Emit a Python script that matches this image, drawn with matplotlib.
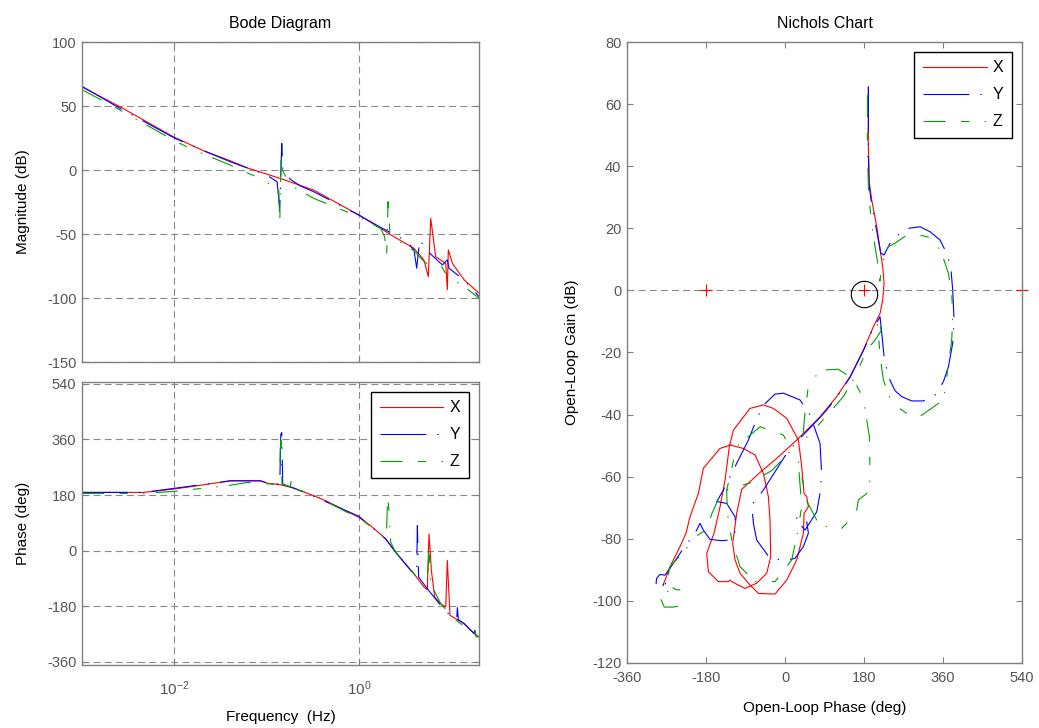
import numpy as np
import matplotlib
matplotlib.use('Agg')
import matplotlib.pyplot as plt

plt.rcParams['font.family'] = ['Liberation Sans', 'DejaVu Sans']
plt.rcParams['mathtext.default'] = 'regular'
plt.rcParams['axes.unicode_minus'] = False
plt.rcParams['lines.scale_dashes'] = False

# Bode magnitude, one frequency list per channel (Hz, dB)
mag_x_f = [0.001, 0.0026, 0.0098, 0.0208, 0.0406, 0.0614, 0.141, 0.325, 1.0, 1.72, 2.40,
           3.95, 5.07, 5.65, 6.0, 6.79, 8.72, 9.08, 9.31, 10.3, 13.8, 20.0]
mag_x_db = [64.9, 49.3, 25.9, 15.0, 7.2, 1.7, -6.6, -15.7, -35.2, -45.6, -52.1,
            -61.2, -70.3, -83.3, -37.8, -67.7, -72.9, -93.6, -62.4, -72.9, -85.8, -96.2]

mag_y_f = [0.001, 0.0026, 0.0098, 0.0149, 0.0406, 0.101, 0.130, 0.139, 0.146, 0.150, 0.181,
           0.233, 0.325, 1.0, 1.72, 3.34, 3.95, 4.23, 4.55, 5.75, 8.02, 9.08, 9.46, 11.7,
           12.7, 20.0]
mag_y_db = [65.4, 48.0, 25.4, 19.4, 6.4, -4.0, -9.2, -30.5, 20.7, 0.0, -7.3,
            -12.5, -17.0, -35.2, -44.8, -55.9, -62.4, -76.7, -54.6, -64.5, -74.1, -70.2, -76.7, -81.9,
            -83.2, -98.8]

mag_z_f = [0.001, 0.0026, 0.0098, 0.0149, 0.0406, 0.0931, 0.1355, 0.139, 0.1436, 0.148, 0.181,
           0.325, 1.0, 1.72, 1.90, 2.0, 2.07, 2.17, 2.40, 3.95, 5.07, 5.75, 7.69, 9.08, 13.8, 20.0]
mag_z_db = [62.8, 46.7, 23.3, 16.8, 3.8, -7.9, -15.7, -41.1, 10.3, 0.0, -11.8,
            -22.2, -36.5, -45.6, -52.0, -66.3, -24.8, -49.4, -53.3, -63.0, -71.5, -74.1, -74.1, -83.2,
            -91.0, -100.1]

# Bode phase (Hz, deg)
ph_x_f = [0.001, 0.00465, 0.0098, 0.0176, 0.0406, 0.0857, 0.101, 0.141, 0.197, 0.325, 0.453,
          1.0, 1.34, 1.95, 2.50, 3.95, 5.07, 5.51, 5.75, 6.10, 6.62, 7.69, 8.72, 9.08, 9.70,
          13.8, 17.7, 20.0]
ph_x_deg = [188.6, 188.6, 199.3, 210.1, 226.2, 226.2, 218.7, 213.3, 202.6, 177.9, 159.6,
            108.0, 81.1, 38.2, -4.8, -74.7, -117.7, -126.3, 54.3, -63.9, -149.9, -171.4, -182.1,
            -31.7, -209.0, -235.9, -268.1, -278.8]

ph_y_f = [0.001, 0.00465, 0.0098, 0.0406, 0.0857, 0.101, 0.139, 0.1426, 0.146, 0.1497, 0.197,
          0.325, 1.0, 1.95, 2.50, 3.95, 4.23, 4.30, 4.44, 5.51, 7.69, 9.70, 11.48, 11.67, 11.96,
          13.8, 17.7, 18.2, 18.6, 20.0]
ph_y_deg = [188.6, 188.6, 201.5, 226.2, 226.2, 219.0, 215.5, 376.7, 382.0, 215.5, 202.6,
            175.7, 111.2, 38.2, -4.8, -76.8, -63.9, 81.1, -85.4, -123.0, -176.8, -209.0, -219.7,
            -184.3, -223.0, -235.9, -268.1, -246.6, -278.8, -278.8]

ph_z_f = [0.001, 0.00465, 0.0098, 0.0372, 0.0614, 0.0931, 0.139, 0.1405, 0.1436, 0.1466, 0.181,
          0.186, 0.1905, 0.325, 0.746, 1.0, 1.87, 2.0, 2.05, 2.12, 2.21, 2.50, 3.95, 5.07, 5.61,
          5.75, 6.0, 7.69, 10.7, 17.7, 18.0, 18.6, 20.0]
ph_z_deg = [185.4, 185.4, 191.8, 210.1, 220.8, 217.6, 213.3, 322.9, 382.0, 215.5, 206.9,
            231.6, 202.6, 181.1, 124.1, 108.0, 43.5, 75.8, 174.6, 129.5, 27.4, -4.8, -74.7, -117.7,
            -63.9, 16.7, -106.9, -171.4, -219.7, -268.1, -241.2, -278.8, -278.8]

# Nichols traces (open-loop phase in deg, gain in dB)
nic_x_ph = [189.8, 189.8, 192.1, 197.5, 208.9, 222.5, 225.6, 222.5, 216.5, 201.3, 178.5,
            148.1, 117.7, 79.8, 26.6, -19.0, -60.0, -98.8, -110.1, -119.3, -113.9, -102.5,
            -83.6, -60.8, -22.8, 3.8, 26.6, 41.8, 43.3, 53.1, 49.4, 43.3, 38.0, 30.4, 3.8,
            -26.6, -49.4, -79.8, -117.7, -126.9, -136.7, -148.1, -161.8, -178.5, -174.7,
            -151.9, -129.1, -125.3, -121.5, -91.2, -64.6, -41.8, -32.7, -34.2, -38.0, -49.4,
            -68.4, -95.0, -125.3, -148.1, -186.1, -197.5, -216.5, -225.6, -239.3, -262.1,
            -273.4, -277.2]
nic_x_db = [65.6, 46.3, 34.5, 29.1, 20.5, 7.6, 2.3, -3.1, -7.4, -11.7, -19.2,
            -27.8, -34.2, -40.7, -48.2, -54.1, -59.0, -64.1, -71.8, -81.5, -86.8, -91.1,
            -94.3, -97.6, -97.8, -93.3, -86.8, -78.2, -71.8, -69.7, -66.4, -65.4, -56.8, -48.2, -41.2,
            -38.0, -36.9, -38.0, -45.0, -50.3, -61.1, -69.7, -78.2, -84.7, -90.6,
            -93.8, -93.8, -93.3, -93.8, -96.0, -94.3, -91.1, -85.8, -74.0, -66.4, -58.9,
            -53.0, -50.9, -49.8, -50.9, -57.3, -65.4, -72.9, -78.2, -82.5, -89.0,
            -93.3, -94.6]

nic_y_ph = [189.8, 189.8, 191.0, 196.0, 207.0, 218.0, 225.6, 239.3, 262.0, 281.0, 307.6,
            330.4, 353.2, 368.4, 377.5, 382.0, 385.1, 382.0, 372.2, 360.8, 341.8, 315.2,
            288.6, 265.8, 250.6, 235.4, 225.6, 220.3, 216.5, 201.3, 178.5, 148.1, 117.7,
            94.9, 79.8, 30.4, 3.8, -49.4, -75.9, -72.1, -64.6, -34.2, 0.0, 22.8, 41.8, 53.2,
            49.4, 38.0, 22.8, 45.6, 72.2, 79.7, 83.5, 79.7, 57.0, 34.2, -3.8, -22.8, -50.9,
            -68.4, -83.5, -106.3, -125.3, -140.5, -155.7, -132.9, -113.9, -111.6, -125.3,
            -144.3, -170.9, -186.1, -193.7, -201.3, -212.7, -224.0, -254.5, -273.4, -285.0,
            -292.4, -293.9, -284.8, -273.4, -269.6, -278.7]
nic_y_db = [65.6, 46.3, 34.5, 29.1, 20.5, 12.0, 11.4, 15.2, 18.4, 20.0, 20.5,
            18.9, 16.2, 11.9, 7.6, 0.1, -9.5, -17.0, -24.6, -29.4, -33.7, -35.6,
            -35.6, -34.2, -32.3, -27.8, -21.3, -13.8, -8.5, -12.0, -19.4, -28.0, -34.4,
            -38.5, -40.9, -48.2, -52.5, -64.3, -69.1, -75.0, -80.4, -86.3, -87.0, -86.3, -82.5, -78.2,
            -74.5, -72.9, -73.4, -77.2, -71.3, -65.4, -59.4, -49.3, -40.1, -35.3, -33.1, -33.4, -37.2,
            -42.8, -48.2, -54.6, -60.0, -64.3, -68.0, -68.6, -72.9, -77.2, -80.4,
            -80.6, -80.2, -77.2, -75.0, -77.2, -79.8, -81.5, -87.9, -91.7, -91.5,
            -92.7, -94.3, -95.6, -94.9, -92.7, -95.2]

nic_z_ph = [188.0, 187.5, 188.5, 191.0, 197.0, 204.0, 212.0, 216.0, 222.0, 235.4, 250.6,
            277.2, 307.6, 338.0, 357.0, 372.2, 379.7, 382.0, 379.7, 372.2, 364.6, 349.4,
            330.4, 303.8, 277.2, 254.4, 239.2, 224.1, 216.5, 212.7, 208.9, 214.0, 219.0,
            205.0, 186.1, 159.5, 132.9, 106.3, 79.7, 55.0, 40.0, 45.0, 52.0, 65.0, 79.7,
            91.1, 121.5, 155.7, 178.5, 186.1, 192.2, 193.7, 186.1, 167.1, 163.3, 151.9,
            129.1, 113.9, 76.0, 50.0, 38.0, 30.0, 38.0, 26.6, 15.2, -22.8, -68.4, -102.5,
            -121.5, -131.4, -133.0, -110.1, -57.0, -3.8, 15.0, -30.0, -80.0, -137.0, -148.0,
            -167.0, -178.0, -201.0, -230.0, -262.0, -270.0, -250.0, -235.0, -255.0, -275.0,
            -283.0, -275.0, -255.0, -239.0]
nic_z_db = [63.0, 50.0, 40.0, 30.0, 22.0, 15.0, 8.0, 3.0, 9.0, 14.1, 15.2,
            17.8, 17.8, 16.8, 11.9, 5.5, -0.9, -8.5, -16.0, -23.5, -32.6, -36.4,
            -38.3, -40.9, -39.6, -37.4, -34.8, -28.9, -21.3, -13.8, -11.7, -9.5, -13.0,
            -16.0, -19.2, -27.8, -34.2, -38.5, -42.8, -46.5, -48.5, -40.0, -32.0, -28.0, -26.7,
            -25.6, -25.4, -28.6, -34.8, -41.7, -47.1, -61.1, -65.4, -67.5, -70.7, -73.4,
            -76.6, -77.2, -75.0, -68.0, -60.0, -55.0, -69.7, -79.3, -86.8, -93.8, -93.8, -89.0,
            -80.4, -71.8, -64.3, -50.3, -43.9, -46.6, -51.4, -58.0, -62.0, -64.5, -66.0,
            -72.0, -77.0, -79.0, -84.0, -89.0, -94.0, -96.3, -96.5, -97.0, -97.0,
            -99.5, -102.0, -102.0, -101.6]

labels = ['X', 'Y', 'Z']
colors = ['#ff0000', '#0000ff', '#00a000']
styles = ['-', (0, (33, 8, 1, 8)), (0, (16, 11, 6, 11, 1, 8))]

grid_style = dict(color='#8a8a8a', linestyle=(0, (5, 3)), linewidth=0.8)
spine_col = '#808080'
tick_col = '#555555'


def style_axes(ax):
    for s in ax.spines.values():
        s.set_color(spine_col)
        s.set_linewidth(1.0)
    ax.tick_params(direction='in', length=4, color=spine_col, labelcolor=tick_col,
                   labelsize=10.5, top=True, right=True, pad=4)


def add_legend(ax):
    leg = ax.legend(loc='upper right', fontsize=11.5, handlelength=4, fancybox=False,
                    edgecolor='k', framealpha=1, borderaxespad=0.6, labelspacing=0.75,
                    handletextpad=0.4, borderpad=0.55)
    leg.get_frame().set_linewidth(1.0)
    return leg


fig = plt.figure(figsize=(10.39, 7.28), dpi=100)
ax_mag = fig.add_axes([0.0789, 0.5027, 0.3821, 0.4396])
ax_ph = fig.add_axes([0.0789, 0.0865, 0.3821, 0.3888])
ax_nic = fig.add_axes([0.6035, 0.0893, 0.3802, 0.853])

# --- Bode magnitude ---
for f, m, c, ls in zip([mag_x_f, mag_y_f, mag_z_f], [mag_x_db, mag_y_db, mag_z_db], colors, styles):
    ax_mag.plot(f, m, color=c, linestyle=ls, linewidth=0.8)
ax_mag.set_xscale('log')
ax_mag.set_xlim(1e-3, 20)
ax_mag.set_ylim(-150, 100)
ax_mag.set_yticks([-150, -100, -50, 0, 50, 100])
ax_mag.set_xticks([1e-2, 1])
ax_mag.xaxis.set_minor_locator(matplotlib.ticker.NullLocator())
ax_mag.set_xticklabels([])
ax_mag.grid(True, **grid_style)
ax_mag.set_ylabel('Magnitude (dB)', fontsize=11, labelpad=12)
ax_mag.set_title('Bode Diagram', fontsize=11.5, pad=10)
style_axes(ax_mag)

# --- Bode phase ---
for f, p, c, ls, lab in zip([ph_x_f, ph_y_f, ph_z_f], [ph_x_deg, ph_y_deg, ph_z_deg], colors, styles, labels):
    ax_ph.plot(f, p, color=c, linestyle=ls, linewidth=0.8, label=lab)
ax_ph.set_xscale('log')
ax_ph.set_xlim(1e-3, 20)
ax_ph.set_ylim(-370, 546)
ax_ph.set_yticks([-360, -180, 0, 180, 360, 540])
ax_ph.set_xticks([1e-2, 1])
ax_ph.set_xticklabels(['$10^{-2}$', '$10^{0}$'])
ax_ph.xaxis.set_minor_locator(matplotlib.ticker.NullLocator())
ax_ph.grid(True, **grid_style)
ax_ph.set_ylabel('Phase (deg)', fontsize=11, labelpad=12)
ax_ph.set_xlabel('Frequency  (Hz)', fontsize=11, labelpad=9)
style_axes(ax_ph)
ax_ph.tick_params(axis='x', labelsize=11, pad=10)
add_legend(ax_ph)

# --- Nichols chart ---
for p, g, c, ls, lab in zip([nic_x_ph, nic_y_ph, nic_z_ph], [nic_x_db, nic_y_db, nic_z_db], colors, styles, labels):
    ax_nic.plot(p, g, color=c, linestyle=ls, linewidth=0.8, label=lab)
ax_nic.axhline(0, **grid_style)
ax_nic.plot([-180, 180, 540], [0, 0, 0], '+', color='red', markersize=9, markeredgewidth=0.8,
            clip_on=False)
ax_nic.plot([180], [-1], 'o', markerfacecolor='none', markeredgecolor='k', markersize=19,
            markeredgewidth=0.8)
ax_nic.set_xlim(-360, 540)
ax_nic.set_ylim(-120, 80)
ax_nic.set_xticks([-360, -180, 0, 180, 360, 540])
ax_nic.set_yticks(np.arange(-120, 81, 20))
ax_nic.set_xlabel('Open-Loop Phase (deg)', fontsize=11, labelpad=11)
ax_nic.set_ylabel('Open-Loop Gain (dB)', fontsize=11, labelpad=9)
ax_nic.set_title('Nichols Chart', fontsize=11.5, pad=10)
style_axes(ax_nic)
ax_nic.tick_params(axis='x', pad=6)
add_legend(ax_nic)

fig.savefig('out.png', dpi=100)
